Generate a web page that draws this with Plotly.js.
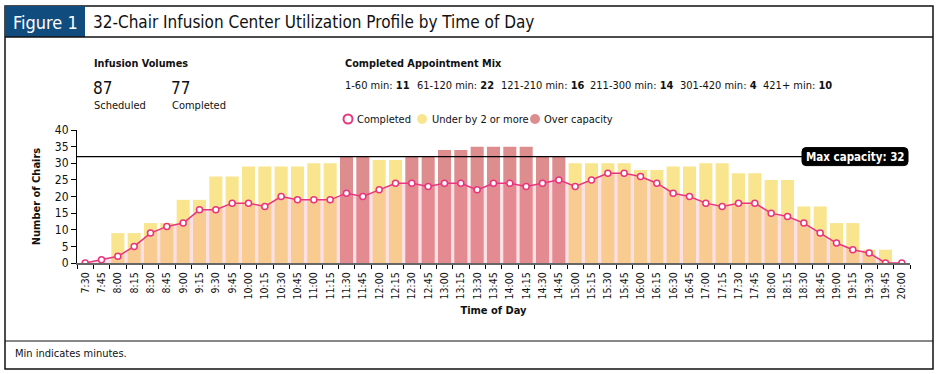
<!DOCTYPE html>
<html>
<head>
<meta charset="utf-8">
<script src="https://cdn.plot.ly/plotly-3.0.1.min.js"></script>
<style>
  html, body { margin: 0; padding: 0; background: #ffffff; }
  #chart { width: 939px; height: 374px; }
</style>
</head>
<body>
<div id="chart"></div>
<script>
// ---------- DATA ----------
const timeLabels = ["7:30","7:45","8:00","8:15","8:30","8:45","9:00","9:15","9:30","9:45",
  "10:00","10:15","10:30","10:45","11:00","11:15","11:30","11:45","12:00","12:15",
  "12:30","12:45","13:00","13:15","13:30","13:45","14:00","14:15","14:30","14:45",
  "15:00","15:15","15:30","15:45","16:00","16:15","16:30","16:45","17:00","17:15",
  "17:30","17:45","18:00","18:15","18:30","18:45","19:00","19:15","19:30","19:45","20:00"];

const scheduledChairs = [0,0,9,9,12,12,19,19,26,26,
  29,29,29,29,30,30,32,32,31,31,
  32,32,34,34,35,35,35,35,32,32,
  30,30,30,30,28,28,29,29,30,30,
  27,27,25,25,17,17,12,12,4,4,0];

const completedChairs = [0,1,2,5,9,11,12,16,16,18,
  18,17,20,19,19,19,21,20,22,24,
  24,23,24,24,22,24,24,23,24,25,
  23,25,27,27,26,24,21,20,18,17,
  18,18,15,14,12,9,6,4,3,0,0];

const maxCapacity = 32;

const volumeLabels = ["Scheduled", "Completed"];
const volumeValues = [87, 77];

const mixLabels = ["1-60 min:", "61-120 min:", "121-210 min:", "211-300 min:", "301-420 min:", "421+ min:"];
const mixValues = [11, 22, 16, 14, 4, 10];

const legendLabels = ["Completed", "Under by 2 or more", "Over capacity"];

// ---------- STYLE ----------
const FONT = "'DejaVu Sans Condensed', 'Liberation Sans Narrow', 'Arial Narrow', sans-serif";
const YELLOW = "#f8e58e";
const RED = "#de8d8e";
const PINK = "#e8357d";
const FILL = "rgba(247,131,155,0.25)";
const BLUE = "#114c7e";

const FIGW = 939, FIGH = 374;
const ML = 77, MR = 29, MT = 130, MB = 111;
const PW = FIGW - ML - MR, PH = FIGH - MT - MB;
const X = px => (px - ML) / PW;
const Y = py => (MT + PH - py) / PH;

const barColors = scheduledChairs.map(v => v >= maxCapacity ? RED : YELLOW);

const traces = [
  {
    type: "bar", x: timeLabels, y: scheduledChairs,
    marker: { color: barColors, line: { width: 0 } },
    hoverinfo: "skip", showlegend: false
  },
  {
    type: "scatter", mode: "none", x: timeLabels, y: completedChairs,
    fill: "tozeroy", fillcolor: FILL, line: { width: 0 },
    hoverinfo: "skip", showlegend: false
  },
  {
    type: "scatter", mode: "lines+markers", x: timeLabels, y: completedChairs,
    line: { color: PINK, width: 1.5 },
    marker: { symbol: "circle", size: 6, color: "#ffffff", line: { color: PINK, width: 1.5 } },
    showlegend: false
  }
];

function txt(text, px, py, size, opts) {
  return Object.assign({
    text: text, xref: "paper", yref: "paper", x: X(px), y: Y(py),
    xanchor: "left", yanchor: "middle", showarrow: false,
    font: { family: FONT, size: size, color: "#111111" }
  }, opts || {});
}

const annotations = [
  txt("Figure 1", 45, 22, 18, { xanchor: "center", font: { family: FONT, size: 18, color: "#ffffff" } }),
  txt("32-Chair Infusion Center Utilization Profile by Time of Day", 91, 22, 17),
  txt("<b>Infusion Volumes</b>", 92, 63, 10.8),
  txt(String(volumeValues[0]), 91, 88, 17),
  txt(volumeLabels[0], 92, 105, 11),
  txt(String(volumeValues[1]), 169, 88, 17),
  txt(volumeLabels[1], 170, 105, 11),
  txt("<b>Completed Appointment Mix</b>", 343, 63, 10.8),
  txt("Min indicates minutes.", 13, 353, 11),
  {
    text: "<b>Max capacity: " + maxCapacity + "</b>", xref: "paper", yref: "y",
    x: X(855), y: maxCapacity, xanchor: "center", yanchor: "middle", showarrow: false,
    font: { family: FONT, size: 11.5, color: "#ffffff" }
  }
];
const mixX = [343, 415, 499, 588, 678, 761];
mixLabels.forEach((l, i) => annotations.push(txt(l + " <b>" + mixValues[i] + "</b>", mixX[i], 85, 11)));

const legTextX = [355, 430, 542];
legendLabels.forEach((l, i) => annotations.push(txt(l, legTextX[i], 119, 11)));

function dot(cx, cy, r, fill, line) {
  return {
    type: "circle", xref: "paper", yref: "paper", layer: "above",
    xsizemode: "pixel", ysizemode: "pixel", xanchor: X(cx), yanchor: Y(cy),
    x0: -r, x1: r, y0: -r, y1: r,
    fillcolor: fill, line: line
  };
}

const shapes = [
  // outer frame
  { type: "rect", xref: "paper", yref: "paper", x0: X(5), x1: X(933), y0: Y(6), y1: Y(369),
    line: { color: "#111111", width: 1.5 }, layer: "above" },
  // header fill box
  { type: "rect", xref: "paper", yref: "paper", x0: X(5), x1: X(85), y0: Y(6), y1: Y(37),
    fillcolor: BLUE, line: { width: 0 }, layer: "above" },
  // header divider
  { type: "line", xref: "paper", yref: "paper", x0: X(5), x1: X(933), y0: Y(37), y1: Y(37),
    line: { color: "#111111", width: 1.5 }, layer: "above" },
  // footer divider
  { type: "line", xref: "paper", yref: "paper", x0: X(5), x1: X(933), y0: Y(341), y1: Y(341),
    line: { color: "#111111", width: 1.2 }, layer: "above" },
  // capacity line
  { type: "line", xref: "paper", yref: "y", x0: 0, x1: X(803), y0: maxCapacity, y1: maxCapacity,
    line: { color: "#000000", width: 1.2 }, layer: "above" },
  // capacity label box (rounded)
  { type: "path", xref: "paper", yref: "y", layer: "above",
    xsizemode: "pixel", ysizemode: "pixel", xanchor: X(855), yanchor: maxCapacity,
    path: "M -49,-9 L 49,-9 Q 53,-9 53,-5 L 53,5 Q 53,9 49,9 L -49,9 Q -53,9 -53,5 L -53,-5 Q -53,-9 -49,-9 Z",
    fillcolor: "#000000", line: { color: "#000000", width: 1 } },
  // legend symbols
  dot(348, 119, 4.5, "#ffffff", { color: PINK, width: 2 }),
  dot(422, 119, 5, YELLOW, { width: 0 }),
  dot(535, 119, 5, RED, { width: 0 })
];

const layout = {
  width: FIGW, height: FIGH,
  margin: { l: ML, r: MR, t: MT, b: MB, pad: 0 },
  paper_bgcolor: "#ffffff", plot_bgcolor: "#ffffff",
  font: { family: FONT, size: 12, color: "#111111" },
  showlegend: false,
  bargap: 0.2,
  xaxis: {
    type: "category", range: [-0.5, timeLabels.length - 0.5],
    tickangle: -90, tickfont: { family: FONT, size: 10.5, color: "#111111" },
    ticks: "outside", ticklen: 4, tickwidth: 1, tickcolor: "#000000",
    tickson: "boundaries", ticklabelstandoff: 3,
    showline: true, linecolor: "#666666", linewidth: 2,
    showgrid: false, zeroline: false, fixedrange: true,
    title: { text: "<b>Time of Day</b>", font: { family: FONT, size: 11, color: "#111111" }, standoff: 8 }
  },
  yaxis: {
    range: [0, 40], dtick: 5, tick0: 0,
    tickfont: { family: FONT, size: 12, color: "#111111" },
    ticks: "outside", ticklen: 5, tickwidth: 1, tickcolor: "#000000",
    showline: true, linecolor: "#000000", linewidth: 1,
    showgrid: false, zeroline: false, fixedrange: true,
    title: { text: "<b>Number of Chairs</b>", font: { family: FONT, size: 11, color: "#111111" }, standoff: 12 }
  },
  shapes: shapes,
  annotations: annotations
};

Plotly.newPlot("chart", traces, layout, { staticPlot: true, displayModeBar: false });
</script>
</body>
</html>
